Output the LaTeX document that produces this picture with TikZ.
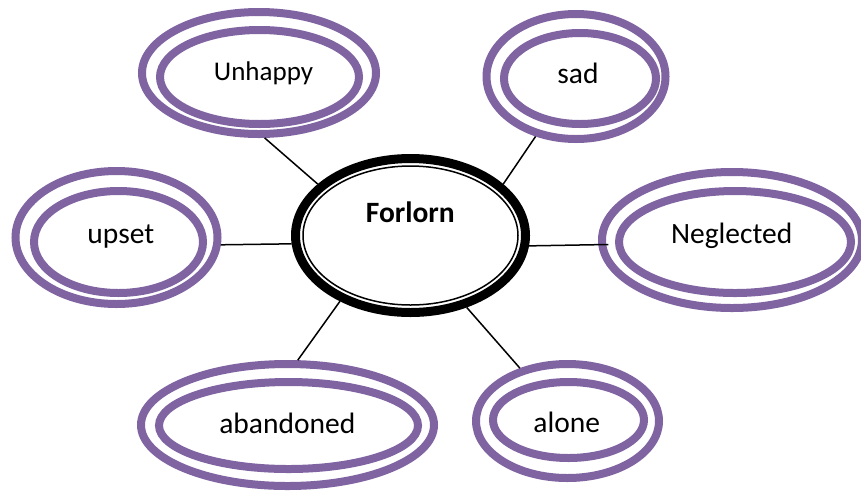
\documentclass[tikz,border=0pt]{standalone}
\usepackage{fontspec}
\setmainfont{Carlito}
\usetikzlibrary{shapes.geometric}
\definecolor{ringpurple}{RGB}{128,100,162}
\begin{document}
\begin{tikzpicture}[x=1pt,y=-1pt,
  ring/.style={ellipse, draw=ringpurple, line width=8pt, inner sep=0pt},
  hub/.style={ellipse, draw=black, line width=9pt, inner sep=0pt, minimum width=230pt, minimum height=154pt},
  word/.style={anchor=base, inner sep=0pt, font=\fontsize{29.5pt}{33pt}\selectfont},
  link/.style={draw=black, line width=1.5pt}]
\useasboundingbox (0,0) rectangle (861,491);
\fill[white] (0,0) rectangle (861,491);

% outer and inner rings
\node[ring, minimum width=234pt, minimum height=122pt] (unhappyO) at (259,73) {};
\node[ring, minimum width=199pt, minimum height=94pt]  (unhappyI) at (259.5,77) {};
\node[ring, minimum width=179pt, minimum height=125pt] (sadO) at (576,76.5) {};
\node[ring, minimum width=152pt, minimum height=91pt]  (sadI) at (580,78.5) {};
\node[ring, minimum width=202pt, minimum height=133pt] (upsetO) at (116.5,237.5) {};
\node[ring, minimum width=169pt, minimum height=102pt] (upsetI) at (118.5,242) {};
\node[ring, minimum width=260pt, minimum height=136pt] (neglectedO) at (732,240) {};
\node[ring, minimum width=232pt, minimum height=102pt] (neglectedI) at (735,242) {};
\node[ring, minimum width=293pt, minimum height=122pt] (abandonedO) at (287.5,425) {};
\node[ring, minimum width=259pt, minimum height=87pt]  (abandonedI) at (288.5,425.5) {};
\node[ring, minimum width=183pt, minimum height=114pt] (aloneO) at (567.5,421) {};
\node[ring, minimum width=151pt, minimum height=76pt]  (aloneI) at (568.5,420) {};

% central hub
\node[hub] (forlorn) at (410.5,235.5) {};
\draw[black, line width=1.5pt] (forlorn.center) ellipse [x radius=107.5pt, y radius=69.5pt];

% connectors
\draw[link] (unhappyO.275) -- (forlorn.151);
\draw[link] (sadO.236) -- (forlorn.29);
\draw[link] (upsetO.356) -- (forlorn.184.6);
\draw[link, shorten >=-10pt] (forlorn.355.4) -- (neglectedO.182.2);
\draw[link] (abandonedO.81) -- (forlorn.223);
\draw[link] (aloneO.132.5) -- (forlorn.308);

% texts
\node[word] (tUnhappy) at (263.5,80) {\fontsize{27pt}{31pt}\selectfont Unhappy};
\node[word] (tSad) at (578,83.3) {sad};
\node[word] (tUpset) at (120.8,243) {upset};
\node[word] (tNeglected) at (731.7,243) {Neglected};
\node[word] (tAbandoned) at (287.3,433) {abandoned};
\node[word] (tAlone) at (566.7,432) {alone};
\node[word, font=\fontsize{29.5pt}{33pt}\selectfont\bfseries] (tForlorn) at (410.3,222) {Forlorn};
\end{tikzpicture}
\end{document}
